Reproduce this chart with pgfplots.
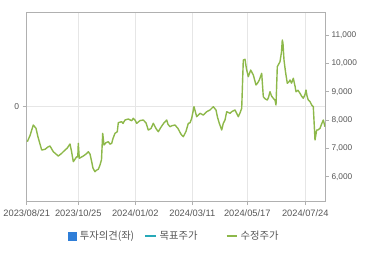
\documentclass[border=0pt]{standalone}
\usepackage{pgfplots}
\pgfplotsset{compat=1.18}
\usepackage{fontspec}
\setmainfont{Liberation Sans}
\newfontfamily\kr{Noto Sans CJK KR}
\definecolor{gridc}{HTML}{E6E6E6}
\definecolor{axc}{HTML}{B0B0B0}
\definecolor{labc}{HTML}{555555}
\definecolor{priceg}{HTML}{8DB84A}
\definecolor{opblue}{HTML}{2F7ED8}
\definecolor{tgteal}{HTML}{27A9B8}
\pgfplotstableread{
x v
27.3 7235
30 7450
33.3 7824
36 7708
38 7400
41.7 6942
45 6967
48 7050
50 7083
53.3 6882
56 6800
58.3 6730
61.7 6826
65 6942
67 7000
70 7154
71.5 6900
73.3 6530
76.7 6706
77.8 6700
78.3 7178
79.3 6650
83.3 6730
86 6800
88.3 6882
90 6800
91.7 6530
93 6300
95 6176
96.5 6230
98.3 6261
100 6413
101.5 6600
102.7 7531
104 7119
106 7200
108.3 7235
110 7150
111.7 7178
113 7350
115 7531
117.3 7588
118.3 7906
121.7 7941
123 7880
125 8001
128.3 8036
131.7 7976
133.3 8061
135 8000
136.7 7884
140 7980
143.3 8001
146 7900
148.3 7648
151 7700
153.3 7884
156 7700
158.3 7588
161 7750
164 7900
166.7 8001
168 7850
170 7764
172 7800
175 7824
178 7700
181 7500
183.3 7412
186 7600
188.3 7884
190 7900
191.7 8061
194 8470
196.7 8118
200 8237
203.3 8177
206.7 8294
210 8354
213.3 8470
216 8354
217.5 8100
219.3 7884
221.7 7648
223.3 7884
225 8000
226.7 8294
230 8237
232 8300
235 8354
238.3 8118
240 8250
241.7 8413
243.3 10118
245 10142
246.5 9800
248.3 9529
250.7 9765
253.3 9589
256 9236
257.5 9300
259.3 9412
261.7 9649
263.3 8823
265 8750
267.3 8706
268.5 8800
270 9000
271.5 8850
273.3 8766
275 8700
276 8530
277.3 9882
280 10058
281.5 10400
282.3 10824
283 10700
284 10118
285.5 9700
287.3 9295
289 9350
290 9412
291.5 9300
293.3 9472
295 9200
296 9000
298 9050
300 8943
301.5 8850
303.3 8766
305 8900
306 9059
307 8850
308.3 8706
310 8650
311.7 8530
313.3 8470
315 7295
316.7 7648
318 7650
320 7708
321.5 7850
323.3 8001
325 7764
}\price
\begin{document}
\begin{tikzpicture}
\pgfplotsset{
  base/.style={
    scale only axis, width=298.3pt, height=188.7pt,
    at={(0pt,0pt)}, anchor=south west,
    xmin=26.7, xmax=325,
    axis line style={axc, line width=0.7pt},
    tick style={axc, line width=0.6pt},
    tick align=outside, major tick length=4pt,
    ticklabel style={text=labc},
  }
}
\begin{axis}[base,
  ymin=-1, ymax=1, ytick={0}, ytick pos=left,
  xtick={26.7,78.3,135.3,192.3,247.3,305.3},
  xticklabels={2023/08/21,2023/10/25,2024/01/02,2024/03/11,2024/05/17,2024/07/24},
  xtick pos=bottom,
  x tick label style={font=\fontsize{9.3}{10}\selectfont, yshift=-1pt},
  y tick label style={font=\fontsize{8.5}{10}\selectfont},
  /pgf/number format/assume math mode=true,
  xmajorgrids, ymajorgrids,
  grid style={gridc, line width=0.7pt},
]
\addplot[draw=none] coordinates {(26.7,0)};
\end{axis}
\begin{axis}[base,
  ymin=5143, ymax=11801,
  axis y line*=right, axis x line=none,
  ytick={6000,7000,8000,9000,10000,11000},
  scaled y ticks=false,
  y tick label style={font=\fontsize{8.3}{10}\selectfont, xshift=-1pt},
  yticklabel style={/pgf/number format/.cd, fixed, 1000 sep={,}, assume math mode=true},
  legend columns=3,
  legend style={draw=none, fill=none, at={(0.495,-0.185)}, anchor=center,
    font=\kr\fontsize{10.3}{12}\selectfont, text=labc,
    /tikz/column 2/.style={column sep=8pt},
    /tikz/column 4/.style={column sep=26pt},
    /tikz/every odd column/.append style={column sep=1pt}},
]
\addlegendimage{legend image code/.code={\fill[opblue] (0pt,-4pt) rectangle (8.3pt,4pt);}}
\addlegendentry{투자의견(좌)}
\addlegendimage{legend image code/.code={\draw[tgteal, line width=2pt] (0pt,0pt) -- (10.5pt,0pt);}}
\addlegendentry{목표주가}
\addplot[priceg, line width=1.4pt, line join=round, legend image code/.code={\draw[priceg, line width=2pt] (0pt,0pt) -- (10pt,0pt);}] table[x=x, y=v] {\price};
\addlegendentry{수정주가}
\end{axis}
\pgfresetboundingbox
\path[use as bounding box] (-26.7pt,-54pt) rectangle (343.3pt,201pt);
\end{tikzpicture}
\end{document}
